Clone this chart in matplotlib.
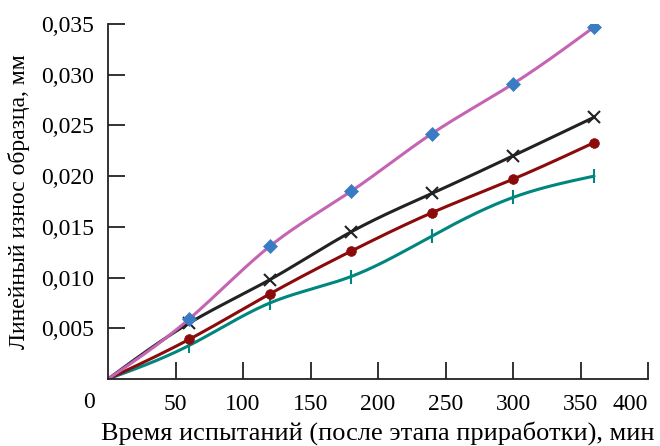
import numpy as np
import matplotlib
matplotlib.use("Agg")
import matplotlib.pyplot as plt
from matplotlib.ticker import FuncFormatter

time_min = [0, 60, 120, 180, 240, 300, 360]
wear_pink = [0, 0.0059, 0.0131, 0.0185, 0.0242, 0.0291, 0.0347]
wear_black = [0, 0.0055, 0.0098, 0.0145, 0.0183, 0.0220, 0.0258]
wear_red = [0, 0.0039, 0.0084, 0.0126, 0.0164, 0.0197, 0.0233]
wear_teal = [0, 0.0033, 0.0075, 0.0101, 0.0141, 0.0179, 0.0200]
x_ticks = [50, 100, 150, 200, 250, 300, 350, 400]
y_ticks = [0.005, 0.010, 0.015, 0.020, 0.025, 0.030, 0.035]


def smooth(x, y, n=300):
    """Natural cubic spline through the data points (for drawing only)."""
    x = np.asarray(x, float); y = np.asarray(y, float)
    k = len(x); h = np.diff(x)
    A = np.zeros((k, k)); b = np.zeros(k)
    A[0, 0] = A[-1, -1] = 1
    for i in range(1, k - 1):
        A[i, i - 1] = h[i - 1]; A[i, i] = 2 * (h[i - 1] + h[i]); A[i, i + 1] = h[i]
        b[i] = 3 * ((y[i + 1] - y[i]) / h[i] - (y[i] - y[i - 1]) / h[i - 1])
    c = np.linalg.solve(A, b)
    xs = np.linspace(x[0], x[-1], n); ys = np.empty_like(xs)
    for j, xv in enumerate(xs):
        i = min(np.searchsorted(x, xv, side="right") - 1, k - 2)
        dx = xv - x[i]
        bi = (y[i + 1] - y[i]) / h[i] - h[i] * (2 * c[i] + c[i + 1]) / 3
        di = (c[i + 1] - c[i]) / (3 * h[i])
        ys[j] = y[i] + bi * dx + c[i] * dx ** 2 + di * dx ** 3
    return xs, ys


plt.rcParams['font.family'] = ['Liberation Serif', 'DejaVu Serif']
fig = plt.figure(figsize=(6.6, 4.46), dpi=100)
ax = fig.add_axes([108 / 660, 1 - 379 / 446, (648 - 108) / 660, (379 - 24) / 446])

lw = 2.2
series = [
    (wear_teal, '#00857F', '|', 10, '#00857F'),
    (wear_red, '#8B0A0A', 'o', 7, '#8B0A0A'),
    (wear_black, '#222222', 'x', 9, '#222222'),
    (wear_pink, '#C464B2', 'D', 7, '#3A7CC4'),
]
for ys, col, mk, ms, mcol in series:
    sx, sy = smooth(time_min, ys)
    ax.plot(sx, sy, color=col, lw=lw, solid_capstyle='round', zorder=2)
    ax.plot(time_min[1:], ys[1:], ls='none', marker=mk, ms=ms, color=mcol,
            mec=mcol, mew=1.5 if mk in ('x', '|') else 0.5, zorder=3)

ax.set_xlim(0, 400)
ax.set_ylim(0, 0.035)
ax.set_xticks(x_ticks)
ax.set_yticks(y_ticks)
ax.yaxis.set_major_formatter(FuncFormatter(lambda v, p: f"{v:.3f}".replace('.', ',')))
ax.spines['top'].set_visible(False)
ax.spines['right'].set_visible(False)
for s in ('left', 'bottom'):
    ax.spines[s].set_linewidth(1.3)
    ax.spines[s].set_color('#222222')
ax.tick_params(direction='in', length=12, width=1.3, labelsize=17, color='#222222', pad=10)
ax.tick_params(axis='x', pad=11)
ax.get_xticklabels()[-1].set_ha('right')
ax.text(-0.035, -0.038, '0', transform=ax.transAxes, ha='center', va='top', fontsize=17)

ax.set_xlabel('Время испытаний (после этапа приработки), мин', fontsize=19, labelpad=4)
ax.set_ylabel('Линейный износ образца, мм', fontsize=17, labelpad=8)

fig.savefig('out.png', dpi=100)
